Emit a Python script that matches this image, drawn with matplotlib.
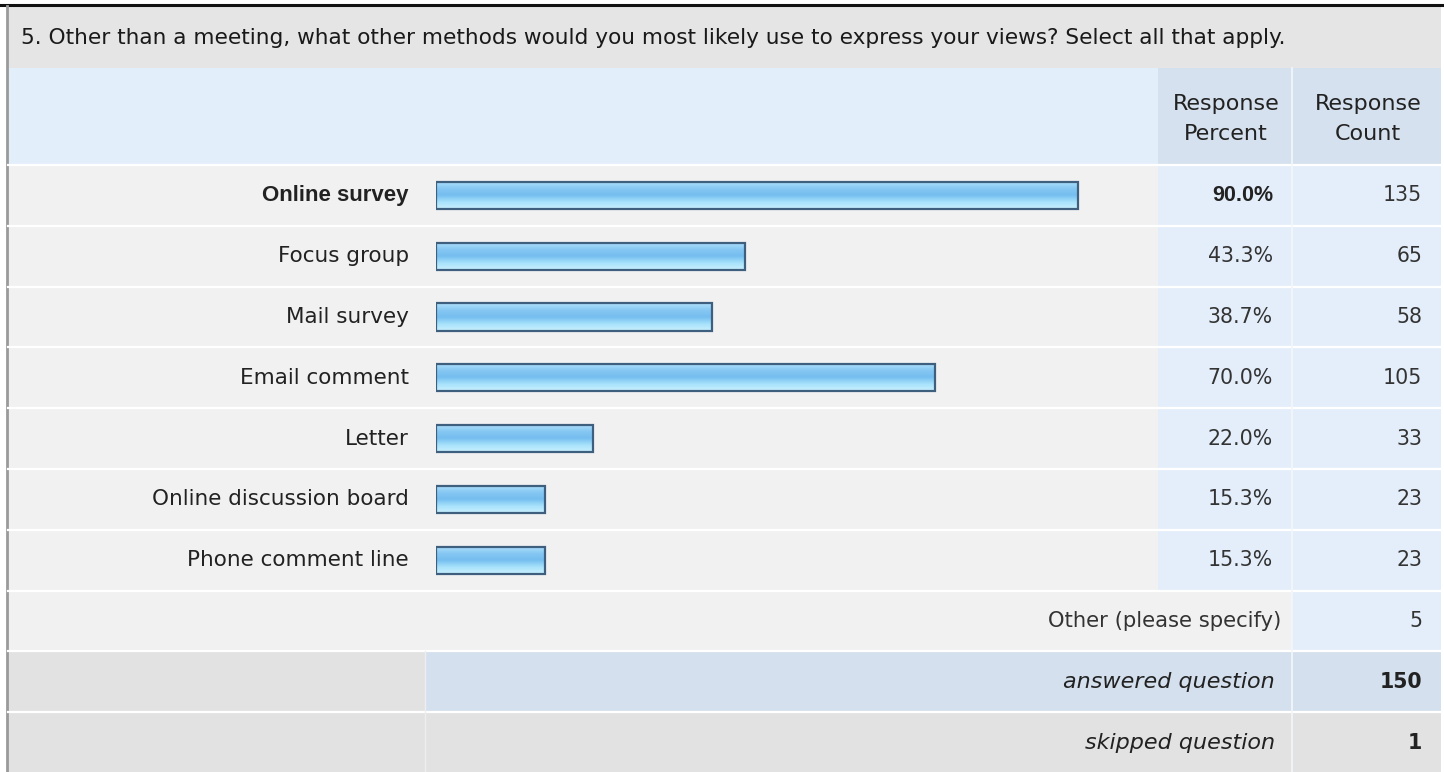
import matplotlib
matplotlib.use("Agg")
import matplotlib.pyplot as plt
import numpy as np
from matplotlib.colors import LinearSegmentedColormap

plt.rcParams["font.family"] = ["DejaVu Sans"]

# data
title = "5. Other than a meeting, what other methods would you most likely use to express your views? Select all that apply."
methods = ["Online survey", "Focus group", "Mail survey", "Email comment",
           "Letter", "Online discussion board", "Phone comment line"]
percents = [90.0, 43.3, 38.7, 70.0, 22.0, 15.3, 15.3]
counts = [135, 65, 58, 105, 33, 23, 23]
other_label = "Other (please specify)"
other_count = 5
answered = 150
skipped = 1

W, H = 1444, 772
fig = plt.figure(figsize=(W / 100, H / 100), dpi=100)
bg = fig.add_axes([0, 0, 1, 1])
bg.set_xlim(0, W)
bg.set_ylim(H, 0)
bg.axis("off")

# layout in pixels
L, R = 7, 1441
col_pct, col_cnt = 1158, 1292
split_x = 425
title_top, head_top, body_top = 6, 68, 165
row_h = 60.8
n = len(methods)
fs = 15.5      # row labels
fs_num = 14.8  # numbers
txt = "#222222"
bold_font = ["Liberation Sans", "DejaVu Sans"]

gray_row = "#f1f1f1"
blue_cell = "#e4eefa"
summary_gray = "#e2e2e2"
summary_blue = "#d4e0ed"

# title and header bands
bg.fill_between([L, R], title_top, head_top, color="#e5e5e5", lw=0)
bg.fill_between([L, R], head_top, body_top, color="#e3eefb", lw=0)
bg.fill_between([col_pct, R], head_top, body_top, color="#d5e1ee", lw=0)
bg.plot([0, W], [title_top - 1, title_top - 1], color="#111111", lw=2.2)
bg.plot([L, L], [title_top, H], color="#9a9a9a", lw=2)

bg.text(21, 38, title, fontsize=15.6, color="#1a1a1a", va="center", ha="left")
for cx, lab in [(1226, "Response\nPercent"), (1368, "Response\nCount")]:
    bg.text(cx, 119, lab, fontsize=16, color=txt, ha="center", va="center",
            linespacing=1.6)

# body rows
for i in range(n + 1):
    y0 = body_top + i * row_h
    bg.fill_between([L, R], y0, y0 + row_h, color=gray_row, lw=0)
    if i < n:
        bg.fill_between([col_pct, R], y0, y0 + row_h, color=blue_cell, lw=0)
    else:
        bg.fill_between([col_cnt, R], y0, y0 + row_h, color=blue_cell, lw=0)

ans_top = body_top + (n + 1) * row_h
skip_top = ans_top + row_h
bg.fill_between([L, R], ans_top, skip_top, color=summary_gray, lw=0)
bg.fill_between([split_x, R], ans_top, skip_top, color=summary_blue, lw=0)
bg.fill_between([L, R], skip_top, H, color=summary_gray, lw=0)

# separators
for i in range(n + 3):
    y = body_top + i * row_h
    bg.plot([L + 1, R], [y, y], color="white", lw=1.6)
bg.plot([col_cnt, col_cnt], [head_top, H], color="#f4f7fb", lw=1.2)
bg.plot([split_x, split_x], [ans_top, H], color="#eeeeee", lw=1)

# row text
for i, (m, p, c) in enumerate(zip(methods, percents, counts)):
    yc = body_top + (i + 0.5) * row_h
    if i == 0:
        bg.text(409, yc, m, fontsize=16, ha="right", va="center", color=txt,
                weight="bold", family=bold_font)
        bg.text(1273, yc, f"{p:.1f}%", fontsize=15.5, ha="right", va="center", color=txt,
                weight="bold", family=bold_font)
    else:
        bg.text(409, yc, m, fontsize=fs, ha="right", va="center", color=txt)
        bg.text(1273, yc, f"{p:.1f}%", fontsize=fs_num, ha="right", va="center", color="#333333")
    bg.text(1422, yc, str(c), fontsize=fs_num, ha="right", va="center", color="#333333")

yc = body_top + (n + 0.5) * row_h
bg.text(1281, yc, other_label, fontsize=15.2, ha="right", va="center", color="#333333")
bg.text(1422, yc, str(other_count), fontsize=fs_num, ha="right", va="center", color="#333333")
yc = ans_top + row_h / 2
bg.text(1275, yc, "answered question", fontsize=16, ha="right", va="center",
        style="italic", color=txt)
bg.text(1422, yc, str(answered), fontsize=14.8, ha="right", va="center", weight="bold",
        color=txt)
yc = skip_top + row_h / 2
bg.text(1275, yc, "skipped question", fontsize=16, ha="right", va="center",
        style="italic", color=txt)
bg.text(1422, yc, str(skipped), fontsize=14.8, ha="right", va="center", weight="bold",
        color=txt)

# bar axes: 0..100 % spans x 436..1149 px
bx0, bx1 = 436, 1149
ax = fig.add_axes([bx0 / W, 1 - (body_top + n * row_h) / H, (bx1 - bx0) / W, n * row_h / H])
ax.axis("off")
ax.patch.set_alpha(0)

ypos = np.arange(n)
bars = ax.barh(ypos, percents, height=0.45, color="#86c8f2",
               edgecolor="#3e5f7e", linewidth=1.6, zorder=3)

grad = LinearSegmentedColormap.from_list(
    "barfill", ["#b0e0fb", "#86c8f3", "#74bdef", "#a8e2fb", "#c8f0fd"])
gimg = np.linspace(0, 1, 64).reshape(-1, 1)
for b in bars:
    x, y, w, h = b.get_x(), b.get_y(), b.get_width(), b.get_height()
    im = ax.imshow(gimg, cmap=grad, aspect="auto", extent=[x, x + w, y + h, y],
                   zorder=2, interpolation="bicubic")
    im.set_clip_path(b)
    b.set_facecolor("none")
ax.set_xlim(0, 100)
ax.set_ylim(n - 0.5, -0.5)

fig.savefig("out.png", dpi=100)
